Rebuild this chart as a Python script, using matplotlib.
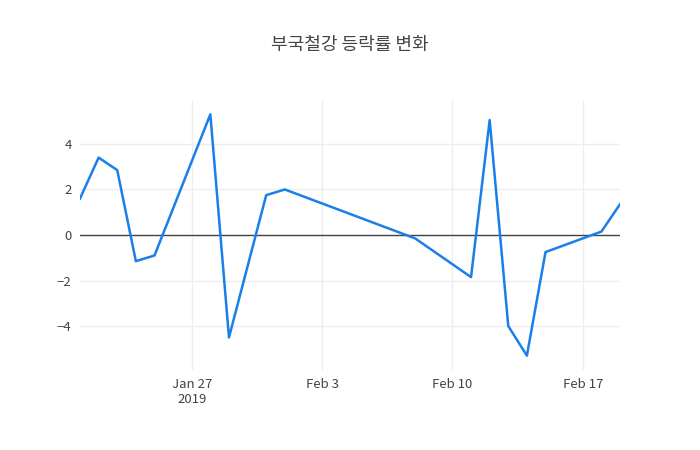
import numpy as np
import pandas as pd
import matplotlib
matplotlib.use('Agg')
from matplotlib import pyplot as plt
import matplotlib.dates as mdates

plt.rcParams['font.family'] = ['Noto Sans CJK KR', 'DejaVu Sans']

#Dates and daily change rates
dates = pd.to_datetime(['2019-01-21', '2019-01-22', '2019-01-23', '2019-01-24', '2019-01-25',
                        '2019-01-28', '2019-01-29', '2019-01-31', '2019-02-01', '2019-02-08',
                        '2019-02-11', '2019-02-12', '2019-02-13', '2019-02-14', '2019-02-15',
                        '2019-02-18', '2019-02-19'])
rates = [1.6, 3.4, 2.85, -1.15, -0.9, 5.3, -4.5, 1.75, 2.0, -0.15,
         -1.85, 5.05, -4.0, -5.3, -0.75, 0.15, 1.35]
title = '부국철강 등락률 변화'

fig = plt.figure(figsize=(7, 4.5), dpi=100)
ax = fig.add_axes([80/700, 1-370/450, 540/700, 270/450])
ax.plot(dates, rates, color='#1a7fe8', lw=1.8, zorder=3)
ax.axhline(0, color='#444444', lw=1, zorder=2)

ax.set_xlim(dates[0], dates[-1])
ax.set_ylim(-5.93, 5.93)
ax.set_yticks([-4, -2, 0, 2, 4])
ax.set_yticklabels(['−4', '−2', '0', '2', '4'])
ticks = pd.to_datetime(['2019-01-27', '2019-02-03', '2019-02-10', '2019-02-17'])
ax.set_xticks(ticks)
ax.set_xticklabels(['Jan 27\n2019', 'Feb 3', 'Feb 10', 'Feb 17'])
ax.grid(color='#eeeeee', lw=1, zorder=0)
for s in ax.spines.values():
    s.set_visible(False)
ax.tick_params(length=0, colors='#444444', labelsize=9.5, pad=6)
fig.text(0.5, 1-45/450, title, ha='center', va='center', fontsize=13, color='#444444')

fig.savefig('out.png')
